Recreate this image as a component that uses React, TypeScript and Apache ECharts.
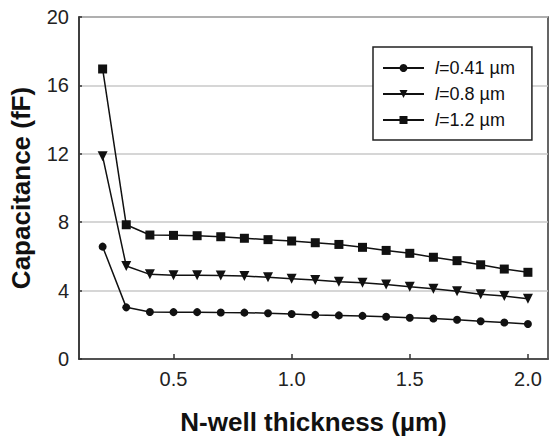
import React, { useEffect, useRef } from "react";
import * as echarts from "echarts";

const thickness = [0.2, 0.3, 0.4, 0.5, 0.6, 0.7, 0.8, 0.9, 1.0, 1.1, 1.2, 1.3, 1.4, 1.5, 1.6, 1.7, 1.8, 1.9, 2.0];
const cap041 = [6.57, 3.02, 2.75, 2.74, 2.74, 2.72, 2.71, 2.68, 2.63, 2.58, 2.55, 2.52, 2.47, 2.41, 2.37, 2.3, 2.21, 2.13, 2.05];
const cap08 = [11.85, 5.44, 4.95, 4.9, 4.9, 4.88, 4.85, 4.78, 4.7, 4.62, 4.52, 4.46, 4.35, 4.23, 4.11, 3.96, 3.78, 3.68, 3.53];
const cap12 = [16.96, 7.85, 7.25, 7.23, 7.21, 7.15, 7.06, 6.98, 6.9, 6.8, 6.7, 6.53, 6.35, 6.18, 5.95, 5.75, 5.51, 5.26, 5.07];
const seriesNames = ["0.41", "0.8", "1.2"];
const xTicks = [0.5, 1.0, 1.5, 2.0];
const yTicks = [0, 4, 8, 12, 16, 20];

const FONT = "'Liberation Sans', Arial, sans-serif";

export default function App() {
  const ref = useRef<HTMLDivElement>(null);
  useEffect(() => {
    if (!ref.current) return;
    const chart = echarts.init(ref.current, undefined, { renderer: "svg" });
    const pairs = (ys: number[]) => thickness.map((x, i) => [x, ys[i]]);
    const common = {
      type: "line",
      color: "#111",
      lineStyle: { color: "#111", width: 1.5 },
      itemStyle: { color: "#111" },
      z: 3,
    };
    chart.setOption({
      animation: false,
      grid: {
        left: 79,
        right: 3,
        top: 17,
        bottom: 80,
        show: true,
        borderColor: "#333",
        borderWidth: 1.5,
        outerBoundsMode: "none",
        containLabel: false,
      },
      legend: {
        orient: "vertical",
        left: 373,
        top: 47,
        padding: [12, 17, 11, 9],
        itemWidth: 41,
        itemHeight: 10,
        itemGap: 8,
        borderColor: "#222",
        borderWidth: 1.5,
        backgroundColor: "#fff",
        data: seriesNames,
        formatter: (name: string) => `{i|l}=${name} \u00b5m`,
        textStyle: {
          fontFamily: FONT,
          fontSize: 18,
          lineHeight: 18,
          color: "#111",
          padding: [0, 0, 0, 6],
          rich: {
            i: { fontStyle: "italic", fontFamily: FONT, fontSize: 18, color: "#111" },
          },
        },
      },
      xAxis: {
        type: "value",
        min: 0.1,
        max: 2.085,
        name: "N-well thickness (\u00b5m)",
        nameLocation: "middle",
        nameGap: 50,
        nameTextStyle: { fontFamily: FONT, fontSize: 26, fontWeight: "bold", color: "#111" },
        axisLine: { show: true, lineStyle: { color: "#333", width: 1.5 } },
        axisTick: { show: true, inside: true, length: 5, customValues: xTicks, lineStyle: { color: "#333", width: 1.5 } },
        axisLabel: {
          customValues: xTicks,
          formatter: (v: number) => v.toFixed(1),
          fontFamily: FONT,
          fontSize: 20,
          color: "#222",
          margin: 10,
        },
        splitLine: { show: false },
      },
      yAxis: {
        type: "value",
        min: 0,
        max: 20,
        interval: 4,
        name: "Capacitance (fF)",
        nameLocation: "middle",
        nameGap: 45,
        nameTextStyle: { fontFamily: FONT, fontSize: 26, fontWeight: "bold", color: "#111" },
        axisLine: { show: true, lineStyle: { color: "#333", width: 1.5 } },
        axisTick: { show: true, inside: true, length: 3, customValues: yTicks, lineStyle: { color: "#333", width: 1.5 } },
        axisLabel: { fontFamily: FONT, fontSize: 20, color: "#222", margin: 10 },
        splitLine: { show: true, lineStyle: { color: "#c8c8c8", width: 1.5 } },
      },
      series: [
        { ...common, name: seriesNames[0], data: pairs(cap041), symbol: "circle", symbolSize: 8 },
        { ...common, name: seriesNames[1], data: pairs(cap08), symbol: "triangle", symbolRotate: 180, symbolSize: 10 },
        { ...common, name: seriesNames[2], data: pairs(cap12), symbol: "rect", symbolSize: 9 },
      ],
    });
    return () => chart.dispose();
  }, []);
  return (
    <div
      ref={ref}
      style={{ position: "fixed", left: 0, top: 0, width: 551, height: 439, background: "#fff" }}
    />
  );
}
